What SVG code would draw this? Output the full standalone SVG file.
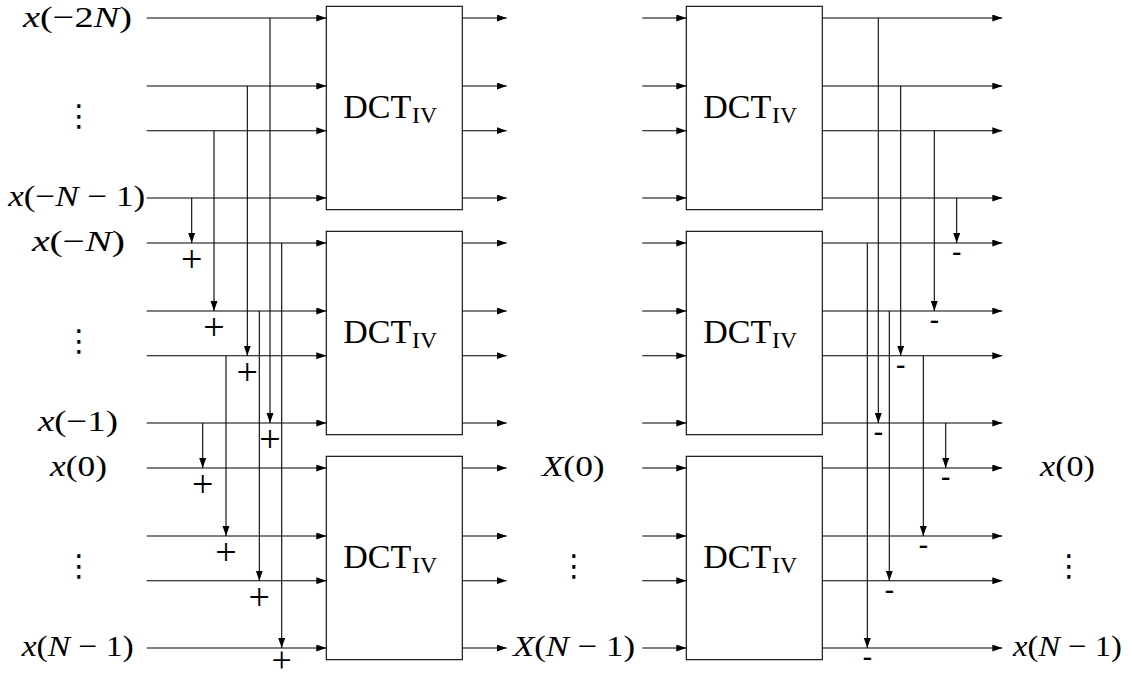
<svg xmlns="http://www.w3.org/2000/svg" width="1132" height="680" viewBox="0 0 1132 680">
<defs>
<marker id="ah" markerUnits="userSpaceOnUse" markerWidth="11" markerHeight="8" refX="10" refY="3.5" orient="auto">
<path d="M0,0 L10,3.5 L0,7 Z" fill="#000"/>
</marker>
</defs>
<style>
.ar{stroke:#000;stroke-width:1.1;fill:none;marker-end:url(#ah)}
.box{stroke:#000;stroke-width:1.1;fill:#fff}
.t{font-family:"Liberation Serif","Times New Roman",serif;font-size:30px;fill:#000}
.i{font-style:italic}
.dct{font-family:"Liberation Serif","Times New Roman",serif;font-size:33px;fill:#000}
.sub{font-size:23px}
.vd{font-family:"DejaVu Sans",sans-serif;font-size:30px;fill:#000;text-anchor:middle}
.pl{font-family:"Liberation Serif",serif;font-size:38px;fill:#000;text-anchor:middle}
.mi{font-family:"Liberation Serif",serif;font-size:28px;font-weight:bold;fill:#000;text-anchor:middle}
</style>
<rect width="1132" height="680" fill="#fff"/>

<g id="connectors">
<!-- left inputs -->
<path class="ar" d="M146.7,18H326.3"/><path class="ar" d="M146.7,86H326.3"/><path class="ar" d="M146.7,130.7H326.3"/><path class="ar" d="M146.7,198H326.3"/>
<path class="ar" d="M146.7,243H326.3"/><path class="ar" d="M146.7,311H326.3"/><path class="ar" d="M146.7,355.7H326.3"/><path class="ar" d="M146.7,423H326.3"/>
<path class="ar" d="M146.7,468H326.3"/><path class="ar" d="M146.7,536H326.3"/><path class="ar" d="M146.7,580.7H326.3"/><path class="ar" d="M146.7,648H326.3"/>
<!-- left outputs -->
<path class="ar" d="M462.3,18H506.7"/><path class="ar" d="M462.3,86H506.7"/><path class="ar" d="M462.3,130.7H506.7"/><path class="ar" d="M462.3,198H506.7"/>
<path class="ar" d="M462.3,243H506.7"/><path class="ar" d="M462.3,311H506.7"/><path class="ar" d="M462.3,355.7H506.7"/><path class="ar" d="M462.3,423H506.7"/>
<path class="ar" d="M462.3,468H506.7"/><path class="ar" d="M462.3,536H506.7"/><path class="ar" d="M462.3,580.7H506.7"/><path class="ar" d="M462.3,648H506.7"/>
<!-- right inputs -->
<path class="ar" d="M642.3,18H686.3"/><path class="ar" d="M642.3,86H686.3"/><path class="ar" d="M642.3,130.7H686.3"/><path class="ar" d="M642.3,198H686.3"/>
<path class="ar" d="M642.3,243H686.3"/><path class="ar" d="M642.3,311H686.3"/><path class="ar" d="M642.3,355.7H686.3"/><path class="ar" d="M642.3,423H686.3"/>
<path class="ar" d="M642.3,468H686.3"/><path class="ar" d="M642.3,536H686.3"/><path class="ar" d="M642.3,580.7H686.3"/><path class="ar" d="M642.3,648H686.3"/>
<!-- right outputs -->
<path class="ar" d="M822.3,18H1002.3"/><path class="ar" d="M822.3,86H1002.3"/><path class="ar" d="M822.3,130.7H1002.3"/><path class="ar" d="M822.3,198H1002.3"/>
<path class="ar" d="M822.3,243H1002.3"/><path class="ar" d="M822.3,311H1002.3"/><path class="ar" d="M822.3,355.7H1002.3"/><path class="ar" d="M822.3,423H1002.3"/>
<path class="ar" d="M822.3,468H1002.3"/><path class="ar" d="M822.3,536H1002.3"/><path class="ar" d="M822.3,580.7H1002.3"/><path class="ar" d="M822.3,648H1002.3"/>
<!-- left verticals -->
<path class="ar" d="M270,18V423"/>
<path class="ar" d="M247.3,86V355.7"/>
<path class="ar" d="M214,130.7V311"/>
<path class="ar" d="M191.7,198V243"/>
<path class="ar" d="M281.7,243V648"/>
<path class="ar" d="M259.3,311V580.7"/>
<path class="ar" d="M226,355.7V536"/>
<path class="ar" d="M202.7,423V468"/>
<!-- right verticals -->
<path class="ar" d="M878.3,18V423"/>
<path class="ar" d="M900.7,86V355.7"/>
<path class="ar" d="M934.3,130.7V311"/>
<path class="ar" d="M956.7,198V243"/>
<path class="ar" d="M867.3,243V648"/>
<path class="ar" d="M889.3,311V580.7"/>
<path class="ar" d="M923.3,355.7V536"/>
<path class="ar" d="M945.7,423V468"/>
</g>

<g id="signs">
<text class="pl" x="191.7" y="271.8">+</text>
<text class="pl" x="214" y="339.8">+</text>
<text class="pl" x="247.3" y="384.5">+</text>
<text class="pl" x="270" y="451.8">+</text>
<text class="pl" x="202.7" y="496.8">+</text>
<text class="pl" x="226" y="564.8">+</text>
<text class="pl" x="259.3" y="609.5">+</text>
<text class="pl" x="281.7" y="672" style="font-size:36px">+</text>
<text class="mi" x="956.7" y="260">-</text>
<text class="mi" x="934.3" y="328">-</text>
<text class="mi" x="900.7" y="372.7">-</text>
<text class="mi" x="878.3" y="440">-</text>
<text class="mi" x="945.7" y="485">-</text>
<text class="mi" x="923.3" y="553">-</text>
<text class="mi" x="889.3" y="597.7">-</text>
<text class="mi" x="867.3" y="665">-</text>
</g>

<g id="dct-l1"><rect class="box" x="326.3" y="6.3" width="136" height="203.4"/><text class="dct" x="343.3" y="118.3" textLength="68" lengthAdjust="spacingAndGlyphs">DCT</text><text class="dct sub" x="412" y="122.7" textLength="25" lengthAdjust="spacingAndGlyphs">IV</text></g>
<g id="dct-l2"><rect class="box" x="326.3" y="231.3" width="136" height="203.4"/><text class="dct" x="343.3" y="343.3" textLength="68" lengthAdjust="spacingAndGlyphs">DCT</text><text class="dct sub" x="412" y="347.7" textLength="25" lengthAdjust="spacingAndGlyphs">IV</text></g>
<g id="dct-l3"><rect class="box" x="326.3" y="456.3" width="136" height="203.4"/><text class="dct" x="343.3" y="568.3" textLength="68" lengthAdjust="spacingAndGlyphs">DCT</text><text class="dct sub" x="412" y="572.7" textLength="25" lengthAdjust="spacingAndGlyphs">IV</text></g>
<g id="dct-r1"><rect class="box" x="686.3" y="6.3" width="136" height="203.4"/><text class="dct" x="703.3" y="118.3" textLength="68" lengthAdjust="spacingAndGlyphs">DCT</text><text class="dct sub" x="772" y="122.7" textLength="25" lengthAdjust="spacingAndGlyphs">IV</text></g>
<g id="dct-r2"><rect class="box" x="686.3" y="231.3" width="136" height="203.4"/><text class="dct" x="703.3" y="343.3" textLength="68" lengthAdjust="spacingAndGlyphs">DCT</text><text class="dct sub" x="772" y="347.7" textLength="25" lengthAdjust="spacingAndGlyphs">IV</text></g>
<g id="dct-r3"><rect class="box" x="686.3" y="456.3" width="136" height="203.4"/><text class="dct" x="703.3" y="568.3" textLength="68" lengthAdjust="spacingAndGlyphs">DCT</text><text class="dct sub" x="772" y="572.7" textLength="25" lengthAdjust="spacingAndGlyphs">IV</text></g>

<g id="labels">
<text class="t" x="23" y="27" textLength="109" lengthAdjust="spacingAndGlyphs"><tspan class="i">x</tspan>(−2<tspan class="i">N</tspan>)</text>
<text class="vd" x="79" y="126">⋮</text>
<text class="t" x="8.3" y="205.5" textLength="137" lengthAdjust="spacingAndGlyphs"><tspan class="i">x</tspan>(−<tspan class="i">N</tspan> − 1)</text>
<text class="t" x="32" y="250.5" textLength="93" lengthAdjust="spacingAndGlyphs"><tspan class="i">x</tspan>(−<tspan class="i">N</tspan>)</text>
<text class="vd" x="79" y="351">⋮</text>
<text class="t" x="38" y="430.5" textLength="80" lengthAdjust="spacingAndGlyphs"><tspan class="i">x</tspan>(−1)</text>
<text class="t" x="50" y="475.5" textLength="57" lengthAdjust="spacingAndGlyphs"><tspan class="i">x</tspan>(0)</text>
<text class="vd" x="79" y="576">⋮</text>
<text class="t" x="21.7" y="655.5" textLength="112" lengthAdjust="spacingAndGlyphs"><tspan class="i">x</tspan>(<tspan class="i">N</tspan> − 1)</text>
<text class="t" x="541.7" y="475.5" textLength="63" lengthAdjust="spacingAndGlyphs"><tspan class="i">X</tspan>(0)</text>
<text class="vd" x="574" y="576">⋮</text>
<text class="t" x="513" y="655.5" textLength="122" lengthAdjust="spacingAndGlyphs"><tspan class="i">X</tspan>(<tspan class="i">N</tspan> − 1)</text>
<text class="t" x="1040" y="475.5" textLength="55" lengthAdjust="spacingAndGlyphs"><tspan class="i">x</tspan>(0)</text>
<text class="vd" x="1069" y="576">⋮</text>
<text class="t" x="1013" y="655.5" textLength="109" lengthAdjust="spacingAndGlyphs"><tspan class="i">x</tspan>(<tspan class="i">N</tspan> − 1)</text>
</g>
</svg>
